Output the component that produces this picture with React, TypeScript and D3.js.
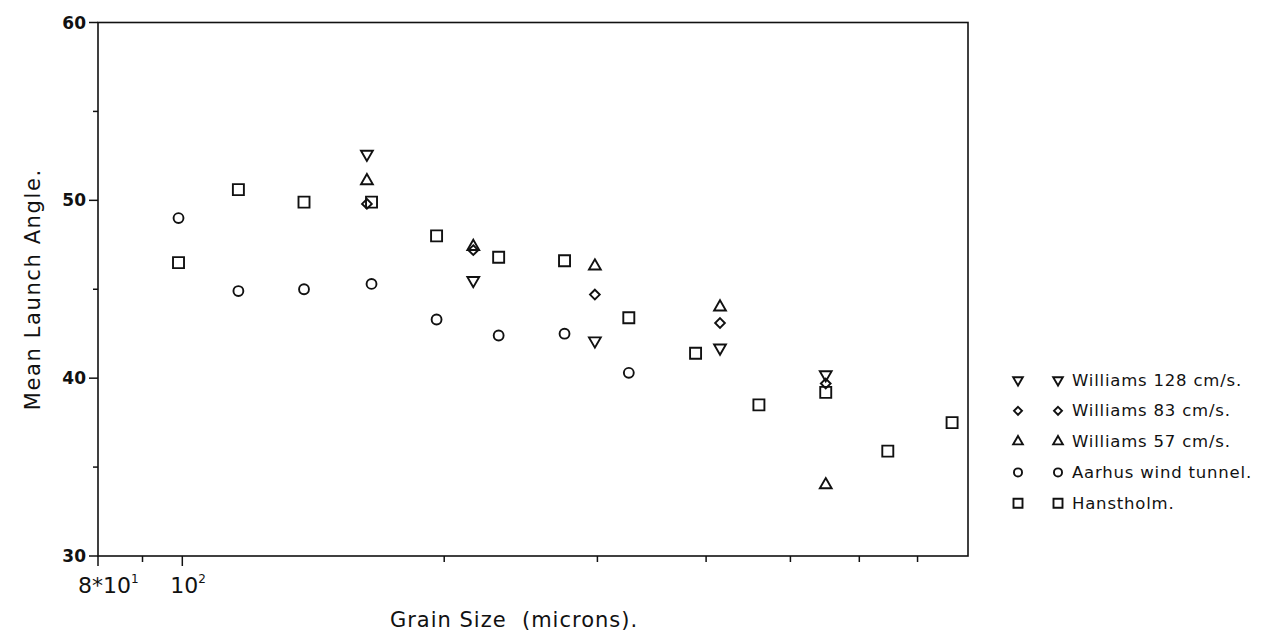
import React from "react"
import * as d3 from "d3"

// grain sizes (microns) and mean launch angles
const williamsSize = [163, 216, 298, 415, 549]
const williams128 = [52.6, 45.5, 42.1, 41.7, 40.2]
const williams83 = [49.8, 47.2, 44.7, 43.1, 39.7]
const williams57 = [51.1, 47.4, 46.3, 44.0, 34.0]

const aarhusSize = [99, 116, 138, 165, 196, 231, 275, 326]
const aarhus = [49.0, 44.9, 45.0, 45.3, 43.3, 42.4, 42.5, 40.3]

const hanstholmSize = [99, 116, 138, 165, 196, 231, 275, 326, 389, 460, 549, 647, 767]
const hanstholm = [46.5, 50.6, 49.9, 49.9, 48.0, 46.8, 46.6, 43.4, 41.4, 38.5, 39.2, 35.9, 37.5]

const yMajor = [30, 40, 50, 60]
const yMinor = [35, 45, 55]
const xMinor = [90, 200, 300, 400, 500, 600, 700]

const legendLabels = [
  "Williams 128 cm/s.",
  "Williams 83 cm/s.",
  "Williams 57 cm/s.",
  "Aarhus wind tunnel.",
  "Hanstholm.",
]

const W = 1279
const H = 634
const left = 98
const right = 968
const top = 22.5
const bottom = 556

const font = "'DejaVu Sans', sans-serif"

type Shape = "down" | "diamond" | "up" | "circle" | "square"

// outline marker path centred on 0,0
function markerPath(shape: Shape, s: number) {
  const sym =
    shape === "circle"
      ? d3.symbolCircle
      : shape === "square"
      ? d3.symbolSquare
      : shape === "diamond"
      ? d3.symbolDiamond2
      : d3.symbolTriangle
  const area =
    shape === "circle"
      ? Math.PI * (s * 0.45) ** 2
      : shape === "square"
      ? s * s
      : shape === "diamond"
      ? s * s * 0.5
      : s * s * 0.5
  return d3.symbol(sym, area)() as string
}

function Marker({ shape, x, y, s }: { shape: Shape; x: number; y: number; s: number }) {
  const rot = shape === "down" ? " rotate(180)" : ""
  return (
    <path
      d={markerPath(shape, s)}
      transform={`translate(${x},${y})${rot}`}
      fill="none"
      stroke="#111"
      strokeWidth={1.9}
    />
  )
}

export default function App() {
  const x = d3.scaleLog().domain([80, 800]).range([left, right])
  const y = d3.scaleLinear().domain([30, 60]).range([bottom, top])

  const series: { shape: Shape; sizes: number[]; vals: number[] }[] = [
    { shape: "square", sizes: hanstholmSize, vals: hanstholm },
    { shape: "circle", sizes: aarhusSize, vals: aarhus },
    { shape: "up", sizes: williamsSize, vals: williams57 },
    { shape: "diamond", sizes: williamsSize, vals: williams83 },
    { shape: "down", sizes: williamsSize, vals: williams128 },
  ]

  const legendShapes: Shape[] = ["down", "diamond", "up", "circle", "square"]

  return (
    <svg
      width={W}
      height={H}
      style={{ position: "absolute", left: 0, top: 0, display: "block", background: "#fff" }}
      fontFamily={font}
    >
      {/* frame */}
      <rect x={left} y={top} width={right - left} height={bottom - top} fill="none" stroke="#111" strokeWidth={1.6} />

      {/* y ticks */}
      {yMajor.map((v) => (
        <g key={"ym" + v}>
          <line x1={left - 9} x2={left} y1={y(v)} y2={y(v)} stroke="#111" strokeWidth={1.5} />
          <text x={left - 12} y={y(v)} textAnchor="end" dominantBaseline="central" fontSize={17} fontWeight="bold" fill="#111">
            {v}
          </text>
        </g>
      ))}
      {yMinor.map((v) => (
        <line key={"yn" + v} x1={left - 5} x2={left} y1={y(v)} y2={y(v)} stroke="#111" strokeWidth={1.5} />
      ))}

      {/* x ticks */}
      <line x1={x(80)} x2={x(80)} y1={bottom} y2={bottom + 10} stroke="#111" strokeWidth={1.5} />
      <line x1={x(100)} x2={x(100)} y1={bottom} y2={bottom + 10} stroke="#111" strokeWidth={1.5} />
      {xMinor.map((v) => (
        <line key={"xn" + v} x1={x(v)} x2={x(v)} y1={bottom} y2={bottom + 6} stroke="#111" strokeWidth={1.5} />
      ))}
      <text x={x(80) - 20} y={bottom + 37} fontSize={22} fill="#111">
        8*10
        <tspan dy={-10} fontSize={12}>
          1
        </tspan>
      </text>
      <text x={x(100) - 12} y={bottom + 37} fontSize={22} fill="#111">
        10
        <tspan dy={-10} fontSize={12}>
          2
        </tspan>
      </text>

      {/* axis titles */}
      <text x={514} y={627} textAnchor="middle" fontSize={21} letterSpacing={1} fill="#111">
        Grain Size{"\u00a0\u00a0"}(microns).
      </text>
      <text
        transform={`translate(33,${(top + bottom) / 2}) rotate(-90)`}
        textAnchor="middle"
        dominantBaseline="central"
        fontSize={21}
        letterSpacing={1.6}
        fill="#111"
      >
        Mean Launch Angle.
      </text>

      {/* data */}
      {series.map((s, si) =>
        s.sizes.map((d, i) => <Marker key={si + "-" + i} shape={s.shape} x={x(d)} y={y(s.vals[i])} s={11} />),
      )}

      {/* legend */}
      {legendLabels.map((lab, i) => {
        const ly = 380 + i * 30.8
        return (
          <g key={lab}>
            <Marker shape={legendShapes[i]} x={1018} y={ly} s={9} />
            <Marker shape={legendShapes[i]} x={1058} y={ly} s={9} />
            <text x={1072} y={ly} dominantBaseline="central" fontSize={16.5} letterSpacing={0.8} fill="#111">
              {lab}
            </text>
          </g>
        )
      })}
    </svg>
  )
}
